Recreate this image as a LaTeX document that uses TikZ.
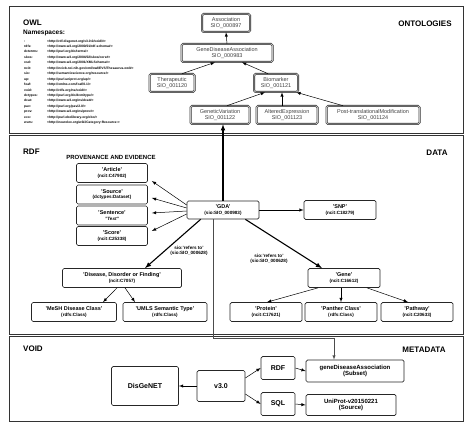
\documentclass[tikz,border=0pt]{standalone}
\usepackage{fontspec}
\setmainfont{Liberation Sans}
\usetikzlibrary{calc}
\newcommand{\idline}[1]{\\[-0.5pt]{\fontsize{4.6}{5}\selectfont #1}}

\begin{document}
\begin{tikzpicture}[
 x=1pt, y=-1pt,
 >={latex},
 align=center,
 inner sep=1pt,
 panel/.style={draw=black!80,line width=1pt},
 title/.style={font=\bfseries\fontsize{8}{9}\selectfont},
 onto/.style={draw=black!80,double=gray!50,double distance=0.8pt,line width=0.6pt,rounded corners=1.5pt,minimum height=18pt,font=\fontsize{5.5}{6}\selectfont,text=black!75},
 rdf/.style={draw=black!85,line width=0.7pt,rounded corners=1.5pt,minimum height=19pt,minimum width=72pt,font=\bfseries\fontsize{5.5}{6}\selectfont},
 meta/.style={draw=black!85,line width=0.7pt,rounded corners=1.5pt,minimum height=23pt,font=\bfseries\fontsize{7}{8}\selectfont},
 link/.style={->,line width=0.5pt},
 strong/.style={->,line width=1.1pt},
 lbl/.style={font=\bfseries\fontsize{4.6}{5}\selectfont}
]
\useasboundingbox (0,0) rectangle (470,427);

% panels
\draw[panel] (9,7) rectangle (463,134);
\draw[panel] (9,136) rectangle (463,334);
\draw[panel] (9,336) rectangle (463,421);

\node (owl-title) [title,anchor=west] at (22,23) {OWL};
\node (ns-title) [anchor=west,font=\bfseries\fontsize{6.5}{7}\selectfont] at (22,33) {Namespaces:};
\node (ns-list) [anchor=north west,inner sep=0pt,align=left,font=\bfseries\fontsize{3.3}{5.45}\selectfont] at (24,38) {%
\begin{tabular}{@{}p{23pt}@{}l@{}}
: & <http://rdf.disgenet.org/v3.0.0/void/\#>\\
rdfs: & <http://www.w3.org/2000/01/rdf-schema\#>\\
dcterms: & <http://purl.org/dc/terms/>\\
skos: & <http://www.w3.org/2004/02/skos/core\#>\\
xsd: & <http://www.w3.org/2001/XMLSchema\#>\\
ncit: & <http://ncicb.nci.nih.gov/xml/owl/EVS/Thesaurus.owl\#>\\
sio: & <http://semanticscience.org/resource/>\\
up: & <http://purl.uniprot.org/up/>\\
foaf: & <http://xmlns.com/foaf/0.1/>\\
void: & <http://rdfs.org/ns/void\#>\\
dctypes: & <http://purl.org/dc/dcmitype/>\\
dcat: & <http://www.w3.org/ns/dcat\#>\\
pav: & <http://purl.org/pav/2.0/>\\
prov: & <http://www.w3.org/ns/prov\#>\\
eco: & <http://purl.obolibrary.org/obo/>\\
wurs: & <http://neurolex.org/wiki/Category:Resource:>
\end{tabular}};
\node (onto-title) [title] at (425,24) {ONTOLOGIES};

% ontology classes
\node (assoc) [onto,minimum width=48pt] at (226,23) {Association\\SIO\_000897};
\node (gda-owl) [onto,minimum width=91pt] at (227,53) {GeneDiseaseAssociation\\SIO\_000983};
\node (thera) [onto,minimum width=45pt] at (172,83) {Therapeutic\\SIO\_001120};
\node (biom) [onto,minimum width=44pt] at (276,83) {Biomarker\\SIO\_001121};
\node (genvar) [onto,minimum width=59pt] at (220,115) {GeneticVariation\\SIO\_001122};
\node (altexp) [onto,minimum width=61pt] at (287,115) {AlteredExpression\\SIO\_001123};
\node (ptm) [onto,minimum width=93pt] at (373,115) {Post-translationalModification\\SIO\_001124};

\draw[link] (gda-owl.north) -- (assoc.south);
\draw[link] ($(thera.north)+(10,0)$) -- ($(gda-owl.south)+(-12,0)$);
\draw[link] ($(biom.north)+(-8,0)$) -- ($(gda-owl.south)+(15,0)$);
\draw[link] ($(genvar.north)+(7,0)$) -- ($(biom.south)+(-11,0)$);
\draw[link] ($(altexp.north)+(-5,0)$) -- ($(biom.south)+(6,0)$);
\draw[link] ($(ptm.north)+(-30,0)$) -- ($(biom.south east)+(-2,0)$);

% data
\node (rdf-title) [title,anchor=west] at (22,152) {RDF};
\node (prov-title) [font=\bfseries\fontsize{6}{7}\selectfont] at (111,157) {PROVENANCE AND EVIDENCE};
\node (data-title) [title] at (437,153) {DATA};

\node (article) [rdf,minimum width=71pt] at (112,173) {'Article'\idline{(ncit:C47902)}};
\node (source) [rdf,minimum width=71pt] at (112,194.5) {'Source'\idline{(dctypes:Dataset)}};
\node (sentence) [rdf,minimum width=71pt] at (112,215.5) {'Sentence'\idline{\textit{"Text"}}};
\node (score) [rdf,minimum width=71pt] at (112,236) {'Score'\idline{(ncit:C25338)}};
\node (gda) [rdf,minimum height=18pt] at (223,210) {'GDA'\idline{(sio:SIO\_000983)}};
\node (snp) [rdf] at (340,210) {'SNP'\idline{(ncit:C18279)}};
\node (disease) [rdf,minimum width=119pt] at (122,278) {'Disease, Disorder or Finding'\idline{(ncit:C7057)}};
\node (mesh) [rdf,minimum width=85pt] at (74,312) {'MeSH Disease Class'\idline{(rdfs:Class)}};
\node (umls) [rdf,minimum width=84pt] at (165,312) {'UMLS Semantic Type'\idline{(rdfs:Class)}};
\node (gene) [rdf] at (344,278) {'Gene'\idline{(ncit:C16612)}};
\node (protein) [rdf] at (266,312) {'Protein'\idline{(ncit:C17621)}};
\node (panther) [rdf] at (341,312) {'Panther Class'\idline{(rdfs:Class)}};
\node (pathway) [rdf] at (417,312) {'Pathway'\idline{(ncit:C20633)}};
\node (refers-d) [lbl] at (189,251) {sio:'refers to'\\(sio:SIO\_000628)};
\node (refers-g) [lbl] at (269,259) {sio:'refers to'\\(sio:SIO\_000628)};

\draw[strong] (gda.north) -- (gda.north |- genvar.south);
\draw[link] ($(gda.west)+(0,-5)$) -- ($(article.east)+(4,8)$);
\draw[link] ($(gda.west)+(0,-2)$) -- ($(source.east)+(4,3.5)$);
\draw[link] ($(gda.west)+(0,1)$) -- ($(sentence.east)+(4,-2.5)$);
\draw[link] ($(gda.west)+(0,4)$) -- ($(score.east)+(4,-5)$);
\draw[link] (gda.east) -- (snp.west);
\draw[strong] ($(gda.south west)+(14,0)$) -- ($(disease.north)+(23,0)$);
\draw[strong] ($(gda.south east)+(-14,0)$) -- ($(gene.north)+(-22,0)$);
\draw[link] ($(disease.south)+(-5,0)$) -- ($(mesh.north)+(29,0)$);
\draw[link] ($(disease.south)+(3,0)$) -- ($(umls.north)+(-30,0)$);
\draw[link] ($(gene.south)+(-26,0)$) -- ($(protein.north)+(1,0)$);
\draw[link] (panther.north |- gene.south) -- (panther.north);
\draw[link] ($(gene.south)+(23,0)$) -- ($(pathway.north)+(-9,0)$);

% metadata
\node (void-title) [title,anchor=west] at (22,349) {VOID};
\node (meta-title) [title] at (424,350) {METADATA};

\node (disgenet) [meta,minimum width=67pt,minimum height=39pt] at (145,386) {DisGeNET};
\node (version) [meta,minimum width=48pt,minimum height=31pt] at (221,386) {v3.0};
\node (rdfsub) [meta,minimum width=34pt] at (278,368) {RDF};
\node (sqlsub) [meta,minimum width=34pt] at (278,404) {SQL};
\node (gdaset) [meta,minimum width=98pt,minimum height=22pt,font=\bfseries\fontsize{6}{6.5}\selectfont] at (355,371) {geneDiseaseAssociation\\(Subset)};
\node (uniprot) [meta,minimum width=90pt,minimum height=21pt,font=\bfseries\fontsize{6}{6.5}\selectfont] at (351,405) {UniProt-v20150221\\(Source)};

\coordinate (turn) at (334,338);
\draw[link,black!70] ($(gda.south)+(-10,0)$) |- (turn) -- (turn |- gdaset.north);
\draw[link] (version.west) -- (disgenet.east);
\draw[link] ($(version.east)+(0,-8)$) -- (rdfsub.west);
\draw[link] ($(version.east)+(0,8)$) -- (sqlsub.west);
\draw[link] (rdfsub.east) -- (gdaset.west);
\draw[link] (sqlsub.east) -- (uniprot.west);
\end{tikzpicture}
\end{document}
